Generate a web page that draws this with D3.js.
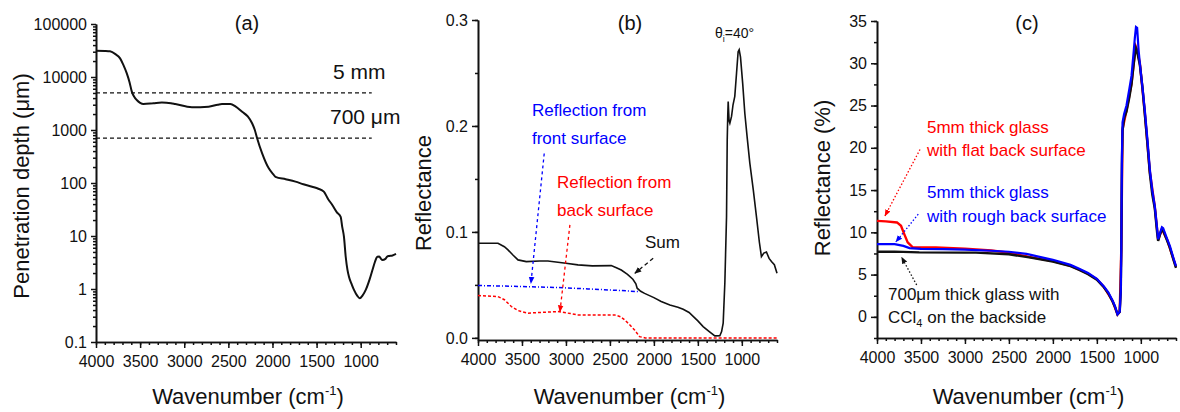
<!DOCTYPE html>
<html>
<head>
<meta charset="utf-8">
<script src="https://cdn.jsdelivr.net/npm/d3@7"></script>
<style>
  body { margin: 0; background: #fff; }
  svg { font-family: 'Liberation Sans', Arial, sans-serif; }
</style>
</head>
<body>
<svg id="chart" width="1180" height="412"></svg>
<script>
// ---- data ----
const xMajor = [4000, 3500, 3000, 2500, 2000, 1500, 1000];
const xMinor = [4000, 3900, 3800, 3700, 3600, 3500, 3400, 3300, 3200, 3100, 3000, 2900, 2800, 2700, 2600, 2500,
  2400, 2300, 2200, 2100, 2000, 1900, 1800, 1700, 1600, 1500, 1400, 1300, 1200, 1100, 1000, 900, 800, 700, 600];

// (a) penetration depth
const depthWn = [4000, 3900, 3841, 3780, 3727, 3690, 3651, 3620, 3594, 3565, 3538, 3500, 3462, 3350, 3254, 3150,
  3102, 2913, 2724, 2620, 2572, 2477, 2420, 2344, 2280, 2231, 2200, 2174, 2117, 2042, 1990, 1966, 1850, 1739,
  1650, 1551, 1480, 1418, 1370, 1322, 1270, 1227, 1210, 1190, 1170, 1150, 1133, 1100, 1076, 1040, 1011, 980,
  943, 900, 867, 840, 811, 790, 770, 754, 720, 700, 678, 640, 600];
const depthUm = [31300, 31000, 30500, 27000, 22500, 17000, 11700, 8000, 5300, 4200, 3680, 3250, 3090, 3200, 3300, 3200,
  3090, 2690, 2760, 3000, 3090, 3090, 2800, 2210, 1800, 1340, 1000, 700, 363, 189, 145, 131, 118, 106,
  95, 85, 78, 68.6, 50, 38.5, 28, 23, 15, 9.7, 4.06, 2.3, 1.7, 1.2, 0.96, 0.75, 0.668, 0.75,
  0.96, 1.5, 2.28, 3.2, 4.06, 4.1, 3.7, 3.52, 3.7, 4.1, 4.2, 4.3, 4.6];
const depthTicks = [0.1, 1, 10, 100, 1000, 10000, 100000];
const depthRefs = [5000, 700];
const depthRefLabels = ['5 mm', '700 \u03bcm'];
const depthRefEnd = 875;

// (b) reflectance at 40 deg
const sumWn = [4000, 3773, 3700, 3659, 3600, 3545, 3451, 3300, 3205, 3000, 2864, 2700, 2485, 2420, 2371, 2300,
  2239, 2205, 2190, 2150, 2106, 2000, 1917, 1818, 1727, 1667, 1600, 1500, 1440, 1370, 1307, 1250, 1230, 1212,
  1193, 1174, 1166, 1160, 1155, 1145, 1136, 1117, 1100, 1080, 1060, 1042, 1030, 1015, 990, 966, 940, 909, 870,
  833, 800, 777, 750, 720, 690, 663, 630, 600];
const sumR = [0.0893, 0.0893, 0.086, 0.083, 0.078, 0.0736, 0.072, 0.0725, 0.0726, 0.0705, 0.0689, 0.068, 0.0682, 0.066, 0.064, 0.060,
  0.0553, 0.051, 0.0469, 0.044, 0.042, 0.038, 0.0343, 0.031, 0.029, 0.027, 0.024, 0.016, 0.0107, 0.006, 0.0019, 0.002, 0.006, 0.014,
  0.052, 0.114, 0.187, 0.21, 0.223, 0.205, 0.2025, 0.209, 0.22, 0.228, 0.25, 0.27, 0.272, 0.265, 0.24, 0.212, 0.19, 0.165, 0.14,
  0.114, 0.09, 0.0767, 0.08, 0.081, 0.075, 0.072, 0.069, 0.061];
const frontWn = [4000, 3500, 3091, 2750, 2400, 2182];
const frontR = [0.0494, 0.0485, 0.0475, 0.0462, 0.0448, 0.0437];
const backWn = [4000, 3773, 3700, 3621, 3550, 3508, 3432, 3300, 3091, 2950, 2864, 2600, 2447, 2380, 2333, 2270, 2220, 2163, 2100, 600];
const backR = [0.040, 0.039, 0.036, 0.0296, 0.026, 0.0248, 0.0233, 0.024, 0.0248, 0.023, 0.0217, 0.0215, 0.0217, 0.020, 0.017, 0.012, 0.0075, 0.0012, 0, 0];
const reflTicks = [0, 0.1, 0.2, 0.3];
const reflMinor = [0, 0.05, 0.1, 0.15, 0.2, 0.25, 0.3];

// (c) reflectance (%) of three samples
const ccl4Wn = [4000, 3800, 3520, 3000, 2875, 2500, 2270, 2000, 1800, 1700, 1600, 1500, 1420, 1370, 1320, 1295, 1265, 1240,
  1228, 1222, 1218, 1215, 1208, 1190, 1163, 1130, 1106, 1080, 1068, 1057, 1042, 1025, 1011, 980, 955, 925, 898, 870,
  841, 815, 803, 780, 760, 746, 700, 670, 630, 600];
const ccl4R = [7.7, 7.72, 7.63, 7.6, 7.6, 7.4, 7.04, 6.55, 6.0, 5.55, 5.05, 4.4, 3.5, 2.8, 1.8, 1.2, 0.3, 0.6,
  3, 8, 14, 18, 22, 23.5, 24.3, 26, 27.5, 30, 31, 31.8, 31.4, 30.5, 29.8, 27, 24, 20.5, 17, 14.5,
  12.8, 10, 9.0, 9.8, 10.3, 10.2, 9.0, 8.2, 6.8, 5.8];
const flatWn = [4000, 3900, 3773, 3727, 3690, 3651, 3594, 3330, 3000, 2700, 2500, 2270, 2000, 1800, 1600, 1500, 1420, 1320,
  1265, 1240, 1222, 1208, 1163, 1106, 1068, 1057, 1042, 1011, 955, 898, 841, 803, 760, 700, 600];
const flatR = [11.36, 11.3, 11.17, 10.77, 9.79, 8.81, 8.22, 8.2, 8.05, 7.85, 7.6, 7.1, 6.6, 6.05, 5.1, 4.45, 3.55, 1.85,
  0.3, 0.6, 8, 22.2, 24.4, 27.6, 31.2, 32, 31.6, 30, 24.2, 17.2, 13, 9.1, 10.4, 9.1, 5.9];
const roughWn = [4000, 3800, 3700, 3630, 3500, 3250, 3000, 2700, 2500, 2300, 2000, 1800, 1700, 1600, 1500, 1420, 1370, 1320,
  1295, 1265, 1240, 1228, 1222, 1218, 1215, 1208, 1190, 1163, 1130, 1106, 1080, 1068, 1055, 1042, 1025, 1011, 980, 955,
  925, 898, 870, 841, 815, 803, 780, 760, 746, 700, 670, 630, 600];
const roughR = [8.6, 8.6, 8.4, 8.14, 8.05, 8.02, 7.95, 7.82, 7.7, 7.45, 6.75, 6.15, 5.7, 5.2, 4.5, 3.6, 2.9, 1.9,
  1.3, 0.3, 0.6, 3, 8, 15, 19, 23, 24, 25, 27, 28.5, 31.5, 33, 34.3, 34.2, 31.5, 30, 27, 24.5,
  21, 17.5, 15, 13.1, 10.5, 9.2, 10, 10.6, 10.5, 9.2, 8.4, 7, 6];
const pctTicks = [0, 5, 10, 15, 20, 25, 30, 35];
const pctMinor = [-2.5, 0, 2.5, 5, 7.5, 10, 12.5, 15, 17.5, 20, 22.5, 25, 27.5, 30, 32.5, 35];

// ---- layout ----
const panels = {
  a: { left: 96, right: 396, top: 24, bottom: 342 },
  b: { left: 478, right: 777, top: 20, bottom: 340 },
  c: { left: 877, right: 1176, top: 21, bottom: 338 },
};
const RED = '#ff0000', BLUE = '#0000ff', INK = '#111';

const svg = d3.select('#chart');
const defs = svg.append('defs');
[['red', RED], ['blue', BLUE], ['black', INK]].forEach(([n, c]) => {
  defs.append('marker').attr('id', 'arr-' + n)
    .attr('viewBox', '0 0 10 10').attr('refX', 9).attr('refY', 5)
    .attr('markerUnits', 'userSpaceOnUse').attr('markerWidth', 7).attr('markerHeight', 7)
    .attr('orient', 'auto')
    .append('path').attr('d', 'M0,1L10,5L0,9z').attr('fill', c);
});

function styleAxis(g, fs) {
  g.attr('font-family', null).attr('font-size', null);
  g.selectAll('.domain').attr('stroke', INK).attr('stroke-width', 1.6);
  g.selectAll('.tick line').attr('stroke', INK).attr('stroke-width', 1.5);
  g.selectAll('.tick text').attr('fill', INK).style('font-size', fs + 'px');
}

function xAxis(p, x) {
  const gm = svg.append('g').attr('transform', `translate(0,${p.bottom})`)
    .call(d3.axisBottom(x).tickValues(xMinor).tickSize(3).tickFormat('').tickSizeOuter(0));
  styleAxis(gm, 16);
  const g = svg.append('g').attr('transform', `translate(0,${p.bottom})`)
    .call(d3.axisBottom(x).tickValues(xMajor).tickSize(6).tickPadding(8).tickSizeOuter(0)
      .tickFormat(d3.format('d')));
  styleAxis(g, 16);
  const t = svg.append('text').attr('x', (p.left + p.right) / 2 + 2).attr('y', 404)
    .attr('text-anchor', 'middle').attr('fill', INK).style('font-size', '22px');
  t.append('tspan').text('Wavenumber (cm');
  t.append('tspan').style('font-size', '13px').attr('dy', -9).text('-1');
  t.append('tspan').attr('dy', 9).text(')');
}

function yTitle(x, y, text) {
  return svg.append('text').attr('transform', `translate(${x},${y}) rotate(-90)`)
    .attr('text-anchor', 'middle').attr('fill', INK).style('font-size', '22px').text(text);
}

function panelLabel(x, text) {
  svg.append('text').attr('x', x).attr('y', 30).attr('text-anchor', 'middle')
    .attr('fill', INK).style('font-size', '20px').text(text);
}

function series(x, y, wn, vals, curve) {
  return d3.line().curve(curve || d3.curveLinear)
    .x(d => x(d[0])).y(d => y(d[1]))(d3.zip(wn, vals));
}

function arrow(x, y, from, to, color, name, dash) {
  svg.append('line')
    .attr('x1', x(from[0])).attr('y1', y(from[1]))
    .attr('x2', x(to[0])).attr('y2', y(to[1]))
    .attr('stroke', color).attr('stroke-width', 1.3)
    .attr('stroke-dasharray', dash)
    .attr('marker-end', `url(#arr-${name})`);
}

function label(x, y, at, color, fs) {
  return svg.append('text').attr('x', x(at[0])).attr('y', y(at[1]))
    .attr('fill', color).style('font-size', fs + 'px');
}

// ---- panel (a) ----
(function () {
  const p = panels.a;
  const x = d3.scaleLinear().domain([4000, 600]).range([p.left, p.right]);
  const y = d3.scaleLog().domain([0.1, 100000]).range([p.bottom, p.top]);

  const minor = [];
  depthTicks.slice(0, -1).forEach(d => [2, 3, 4, 5, 6, 7, 8, 9].forEach(k => minor.push(d * k)));
  styleAxis(svg.append('g').attr('transform', `translate(${p.left},0)`)
    .call(d3.axisLeft(y).tickValues(minor).tickSize(3).tickFormat('').tickSizeOuter(0)), 16);
  styleAxis(svg.append('g').attr('transform', `translate(${p.left},0)`)
    .call(d3.axisLeft(y).tickValues(depthTicks).tickSize(5).tickPadding(4).tickSizeOuter(0)
      .tickFormat(d3.format('~g'))), 16);
  xAxis(p, x);

  svg.append('g').selectAll('line').data(depthRefs).join('line')
    .attr('x1', x(4000)).attr('x2', x(depthRefEnd))
    .attr('y1', d => y(d)).attr('y2', d => y(d))
    .attr('stroke', INK).attr('stroke-width', 1.2).attr('stroke-dasharray', '4,3');
  svg.append('g').selectAll('text').data(depthRefLabels).join('text')
    .attr('x', (d, i) => i === 0 ? 333 : 330)
    .attr('y', (d, i) => y(depthRefs[i]) - 14)
    .attr('fill', INK).style('font-size', '21px').text(d => d);

  svg.append('path').attr('d', series(x, y, depthWn, depthUm, d3.curveMonotoneX))
    .attr('fill', 'none').attr('stroke', INK).attr('stroke-width', 2);

  yTitle(29, 186, 'Penetration depth (\u03bcm)');
  panelLabel(247, '(a)');
})();

// ---- panel (b) ----
(function () {
  const p = panels.b;
  const x = d3.scaleLinear().domain([4000, 600]).range([p.left, p.right]);
  const y = d3.scaleLinear().domain([-0.002, 0.3]).range([p.bottom, 20]);

  styleAxis(svg.append('g').attr('transform', `translate(${p.left},0)`)
    .call(d3.axisLeft(y).tickValues(reflMinor).tickSize(3).tickFormat('').tickSizeOuter(0)), 16);
  styleAxis(svg.append('g').attr('transform', `translate(${p.left},0)`)
    .call(d3.axisLeft(y).tickValues(reflTicks).tickSize(6).tickPadding(4).tickSizeOuter(0)
      .tickFormat(d3.format('.1f'))), 16);
  xAxis(p, x);

  svg.append('path').attr('d', series(x, y, backWn, backR))
    .attr('fill', 'none').attr('stroke', RED).attr('stroke-width', 1.5).attr('stroke-dasharray', '3,2');
  svg.append('path').attr('d', series(x, y, frontWn, frontR))
    .attr('fill', 'none').attr('stroke', BLUE).attr('stroke-width', 1.5).attr('stroke-dasharray', '4,2,1,2');
  svg.append('path').attr('d', series(x, y, sumWn, sumR))
    .attr('fill', 'none').attr('stroke', INK).attr('stroke-width', 1.6);

  // annotations
  const fl = label(x, y, [3386, 0.2094], BLUE, 17);
  fl.append('tspan').text('Reflection from');
  fl.append('tspan').attr('x', x(3386)).attr('dy', 28).text('front surface');
  const bl = label(x, y, [3102, 0.1415], RED, 17);
  bl.append('tspan').text('Reflection from');
  bl.append('tspan').attr('x', x(3102)).attr('dy', 28).text('back surface');
  label(x, y, [2102, 0.0845], INK, 17).text('Sum');

  arrow(x, y, [3247, 0.174], [3398, 0.0516], BLUE, 'blue', '3,3');
  arrow(x, y, [2955, 0.1066], [3068, 0.0248], RED, 'red', '3,3');
  arrow(x, y, [2008, 0.0752], [2216, 0.061], INK, 'black', '4,3');

  const th = svg.append('text').attr('x', 715).attr('y', 38).attr('fill', INK).style('font-size', '14px');
  th.append('tspan').text('\u03b8');
  th.append('tspan').style('font-size', '9px').attr('dy', 4).text('i');
  th.append('tspan').attr('dy', -4).text('=40\u00b0');

  yTitle(431, 193, 'Reflectance');
  panelLabel(630, '(b)');
})();

// ---- panel (c) ----
(function () {
  const p = panels.c;
  const x = d3.scaleLinear().domain([4000, 600]).range([p.left, p.right]);
  const y = d3.scaleLinear().domain([-2.5, 35]).range([p.bottom, p.top]);

  styleAxis(svg.append('g').attr('transform', `translate(${p.left},0)`)
    .call(d3.axisLeft(y).tickValues(pctMinor).tickSize(3).tickFormat('').tickSizeOuter(0)), 16);
  styleAxis(svg.append('g').attr('transform', `translate(${p.left},0)`)
    .call(d3.axisLeft(y).tickValues(pctTicks).tickSize(6).tickPadding(4).tickSizeOuter(0)
      .tickFormat(d3.format('d'))), 16);
  xAxis(p, x);

  svg.append('path').attr('d', series(x, y, flatWn, flatR))
    .attr('fill', 'none').attr('stroke', RED).attr('stroke-width', 2.4);
  svg.append('path').attr('d', series(x, y, ccl4Wn, ccl4R))
    .attr('fill', 'none').attr('stroke', INK).attr('stroke-width', 2.4);
  svg.append('path').attr('d', series(x, y, roughWn, roughR))
    .attr('fill', 'none').attr('stroke', BLUE).attr('stroke-width', 2.2);

  const rl = label(x, y, [3432, 21.8], RED, 17);
  rl.append('tspan').text('5mm thick glass');
  rl.append('tspan').attr('x', x(3432)).attr('dy', 23).text('with flat back surface');
  const ul = label(x, y, [3432, 14.03], BLUE, 17);
  ul.append('tspan').text('5mm thick glass');
  ul.append('tspan').attr('x', x(3432)).attr('dy', 24).text('with rough back surface');
  const kl = label(x, y, [3875, 2.0], INK, 17);
  kl.append('tspan').text('700\u03bcm thick glass with');
  kl.append('tspan').attr('x', x(3875)).attr('dy', 23).text('CCl');
  kl.append('tspan').style('font-size', '11px').attr('dy', 4).text('4');
  kl.append('tspan').attr('dy', -4).text(' on the backside');

  arrow(x, y, [3511, 19.8], [3909, 11.95], RED, 'red', '1.5,2');
  arrow(x, y, [3531, 12.15], [3784, 8.88], BLUE, 'blue', '1.5,2');
  arrow(x, y, [3549, 3.77], [3719, 7.04], INK, 'black', '1.5,2');

  yTitle(830, 178, 'Reflectance (%)');
  panelLabel(1027, '(c)');
})();
</script>
</body>
</html>
